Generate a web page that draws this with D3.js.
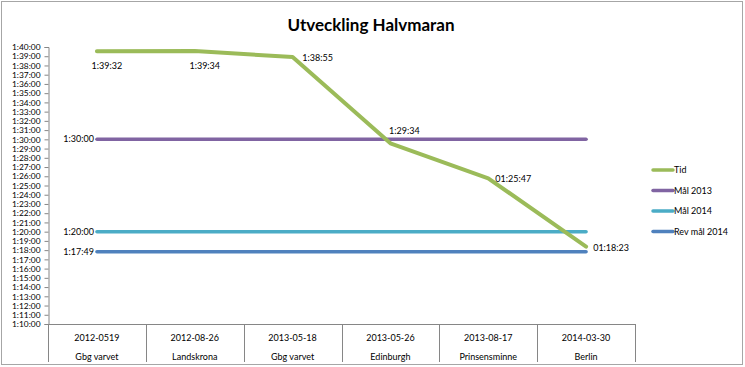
<!DOCTYPE html>
<html>
<head>
<meta charset="utf-8">
<script src="https://cdn.jsdelivr.net/npm/d3@7/dist/d3.min.js"></script>
<style>
  html, body { margin: 0; padding: 0; background: #fff; }
  svg { display: block; }
  text { font-family: Lato, "Open Sans", "Liberation Sans", sans-serif; fill: #000; }
</style>
</head>
<body>
<svg id="chart" width="745" height="367"></svg>
<script>
const dates = ["2012-0519", "2012-08-26", "2013-05-18", "2013-05-26", "2013-08-17", "2014-03-30"];
const places = ["Gbg varvet", "Landskrona", "Gbg varvet", "Edinburgh", "Prinsensminne", "Berlin"];
const tid = ["1:39:32", "1:39:34", "1:38:55", "1:29:34", "1:25:47", "1:18:23"];
const tidLabels = ["1:39:32", "1:39:34", "1:38:55", "1:29:34", "01:25:47", "01:18:23"];
const tidLabelPlace = ["below", "below", "right", "above", "right", "right"];
const mal2013 = ["1:30:00", "1:30:00", "1:30:00", "1:30:00", "1:30:00", "1:30:00"];
const mal2014 = ["1:20:00", "1:20:00", "1:20:00", "1:20:00", "1:20:00", "1:20:00"];
const revMal2014 = ["1:17:49", "1:17:49", "1:17:49", "1:17:49", "1:17:49", "1:17:49"];
const seriesNames = ["Tid", "Mål 2013", "Mål 2014", "Rev mål 2014"];
const seriesColors = ["#9BBB59", "#8064A2", "#4BACC6", "#4F81BD"];
const yMin = "1:10:00", yMax = "1:40:00";

const toSec = s => { const p = s.split(":").map(Number); return p[0]*3600 + p[1]*60 + p[2]; };
const fmt = sec => { const h = Math.floor(sec/3600), m = Math.floor((sec%3600)/60), s = sec%60;
  return h + ":" + String(m).padStart(2,"0") + ":" + String(s).padStart(2,"0"); };

const svg = d3.select("#chart");
const W = 745, H = 367;
const plot = { left: 48, right: 635, top: 47, bottom: 324 };

svg.append("rect").attr("x", 1.5).attr("y", 1.5).attr("width", W - 4).attr("height", H - 4)
  .attr("fill", "#fff").attr("stroke", "#a6a6a6").attr("stroke-width", 1);

svg.append("text").attr("x", 371).attr("y", 31).attr("text-anchor", "middle")
  .style("font-size", "17px").style("font-weight", "bold").text("Utveckling Halvmaran");

const x = d3.scaleBand().domain(d3.range(dates.length)).range([plot.left, plot.right]);
const y = d3.scaleLinear().domain([toSec(yMin), toSec(yMax)]).range([plot.bottom, plot.top]);

// Y axis
const yTicks = d3.range(toSec(yMin), toSec(yMax) + 1, 60);
const yAxis = d3.axisLeft(y).tickValues(yTicks).tickFormat(fmt).tickSize(4).tickPadding(4);
const gy = svg.append("g").attr("transform", `translate(${plot.left + 0.5},0)`).call(yAxis);
gy.select(".domain").attr("stroke", "#868686");
gy.selectAll(".tick line").attr("stroke", "#868686");
gy.selectAll(".tick text").style("font-size", "8.4px").style("font-family", "Lato, 'Open Sans', sans-serif").attr("fill", "#000");

// X axis (multi-level)
const gx = svg.append("g");
gx.append("line").attr("x1", plot.left).attr("x2", plot.right).attr("y1", plot.bottom + 0.5).attr("y2", plot.bottom + 0.5)
  .attr("stroke", "#868686");
const bounds = d3.range(dates.length + 1).map(i => i < dates.length ? x(i) : x(dates.length - 1) + x.bandwidth());
gx.selectAll("line.sep").data(bounds).join("line").attr("class", "sep")
  .attr("x1", d => Math.round(d) + 0.5).attr("x2", d => Math.round(d) + 0.5)
  .attr("y1", plot.bottom).attr("y2", 362).attr("stroke", "#868686");
gx.selectAll("text.date").data(dates).join("text").attr("class", "date")
  .attr("x", (d, i) => x(i) + x.bandwidth()/2).attr("y", 341).attr("text-anchor", "middle")
  .style("font-size", "9px").text(d => d);
gx.selectAll("text.place").data(places).join("text").attr("class", "place")
  .attr("x", (d, i) => x(i) + x.bandwidth()/2).attr("y", 360).attr("text-anchor", "middle")
  .style("font-size", "9px").text(d => d);

// Lines
const cx = i => x(i) + x.bandwidth()/2;
const line = d3.line().x((d, i) => cx(i)).y(d => y(toSec(d)));
const allSeries = [tid, mal2013, mal2014, revMal2014];
const widths = [4, 3.5, 3.5, 3.5];
[3, 2, 1, 0].forEach(k => {
  svg.append("path").datum(allSeries[k]).attr("d", line).attr("fill", "none")
    .attr("stroke", seriesColors[k]).attr("stroke-width", widths[k])
    .attr("stroke-linejoin", "round").attr("stroke-linecap", "round");
});

// Data labels for Tid
const off = { below: [10, 15], right: [25, 1], above: [14, -12] };
svg.selectAll("text.tl").data(tidLabels).join("text").attr("class", "tl")
  .attr("x", (d, i) => cx(i) + off[tidLabelPlace[i]][0])
  .attr("y", (d, i) => y(toSec(tid[i])) + off[tidLabelPlace[i]][1] + 3)
  .attr("text-anchor", "middle").style("font-size", "9px").text(d => d);

// Start labels for the goal lines
[mal2013, mal2014, revMal2014].forEach(s => {
  svg.append("text").attr("x", cx(0) - 3).attr("y", y(toSec(s[0])) + 3)
    .attr("text-anchor", "end").style("font-size", "9px").text(s[0]);
});

// Legend
const lg = svg.append("g");
seriesNames.forEach((n, i) => {
  const ly = 170 + i * 20.5;
  lg.append("line").attr("x1", 653).attr("x2", 673).attr("y1", ly).attr("y2", ly)
    .attr("stroke", seriesColors[i]).attr("stroke-width", 3.5).attr("stroke-linecap", "round");
  lg.append("text").attr("x", 674).attr("y", ly + 3).style("font-size", "9px").text(n);
});
</script>
</body>
</html>
